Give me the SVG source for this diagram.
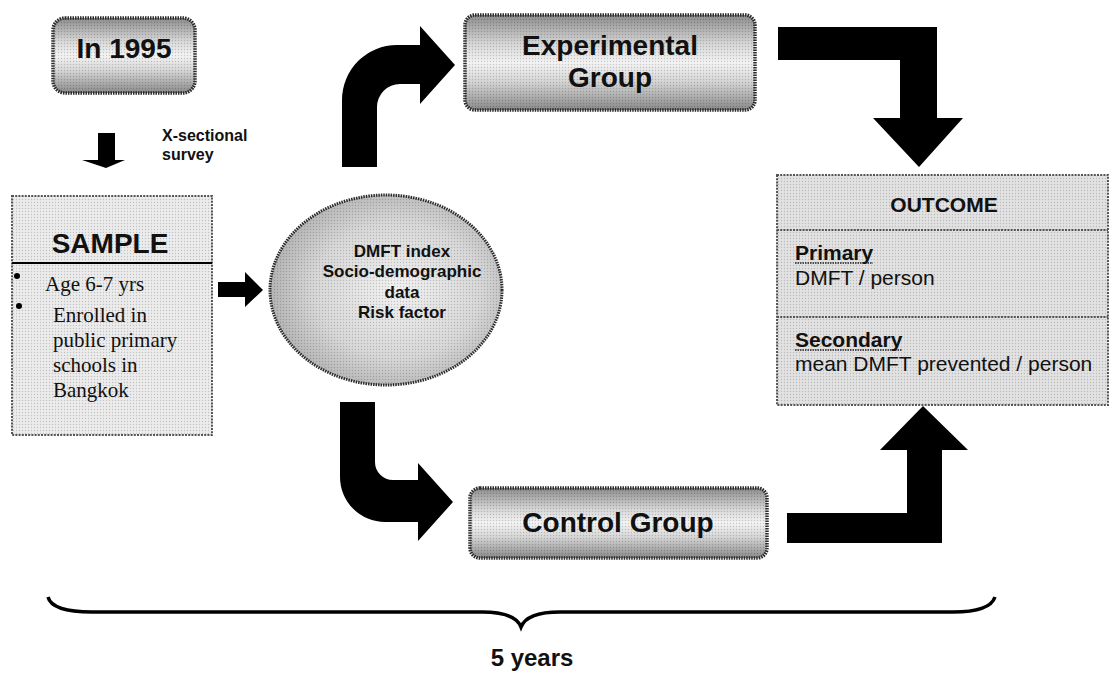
<svg xmlns="http://www.w3.org/2000/svg" width="1111" height="679" viewBox="0 0 1111 679">
<defs>
<linearGradient id="gBox" x1="0" y1="0" x2="0" y2="1">
<stop offset="0" stop-color="#8c8c8c"/>
<stop offset="0.3" stop-color="#d6d6d6"/>
<stop offset="0.5" stop-color="#f4f4f4"/>
<stop offset="0.7" stop-color="#d6d6d6"/>
<stop offset="1" stop-color="#8a8a8a"/>
</linearGradient>
<radialGradient id="gEll" cx="0.55" cy="0.5" r="0.55">
<stop offset="0" stop-color="#f2f2f2"/>
<stop offset="0.65" stop-color="#d8d8d8"/>
<stop offset="1" stop-color="#b4b4b4"/>
</radialGradient>
<pattern id="ht" width="3" height="3" patternUnits="userSpaceOnUse">
<circle cx="1.5" cy="1.5" r="0.7" fill="#000" opacity="0.18"/>
</pattern>
<style>
.rbox{fill:url(#gBox);stroke:#2a2a2a;stroke-width:3.5;stroke-dasharray:1.5 1}
.tex{fill:url(#ht);stroke:none}
.sq{stroke:#555;stroke-width:2;stroke-dasharray:2 1.2}
.ul{stroke:#222;stroke-width:1.5;stroke-dasharray:1.5 1}
.b{font-family:"Liberation Sans",Arial,sans-serif;font-weight:bold;fill:#111}
.r{font-family:"Liberation Sans",Arial,sans-serif;fill:#111}
.s{font-family:"Liberation Serif","Times New Roman",serif;fill:#111}
.arr{fill:#000}
</style>
</defs>
<rect width="1111" height="679" fill="#fff"/>

<g id="in1995">
<rect class="rbox" x="53" y="18" width="142" height="75" rx="12"/>
<rect class="tex" x="55" y="20" width="138" height="71" rx="10"/>
<text class="b" x="124" y="58" font-size="28" text-anchor="middle">In 1995</text>
</g>

<g id="xsection-label">
<text class="b" x="162" y="141" font-size="16">X-sectional</text>
<text class="b" x="162" y="160" font-size="16">survey</text>
</g>

<g id="sample">
<rect class="sq" x="12" y="196" width="200" height="239" fill="#ececec"/>
<rect class="tex" x="13" y="197" width="198" height="237"/>
<line x1="12" y1="263" x2="212" y2="263" stroke="#000" stroke-width="2"/>
<text class="b" x="110" y="253" font-size="28" text-anchor="middle">SAMPLE</text>
<circle cx="17" cy="276" r="3" fill="#000"/>
<text class="s" x="45" y="291" font-size="21">Age 6-7 yrs</text>
<circle cx="19" cy="306" r="3" fill="#000"/>
<text class="s" x="53" y="322" font-size="21">Enrolled in</text>
<text class="s" x="53" y="347" font-size="21">public primary</text>
<text class="s" x="53" y="372" font-size="21">schools in</text>
<text class="s" x="53" y="397" font-size="21">Bangkok</text>
</g>

<g id="data-ellipse">
<ellipse cx="386" cy="290" rx="116" ry="95" fill="url(#gEll)" stroke="#2a2a2a" stroke-width="3" stroke-dasharray="1.5 1"/>
<ellipse class="tex" cx="386" cy="290" rx="114" ry="93"/>
<text class="b" x="402" y="257" font-size="17" text-anchor="middle">DMFT index</text>
<text class="b" x="402" y="277" font-size="17" text-anchor="middle">Socio-demographic</text>
<text class="b" x="402" y="298" font-size="17" text-anchor="middle">data</text>
<text class="b" x="402" y="318" font-size="17" text-anchor="middle">Risk factor</text>
</g>

<g id="experimental">
<rect class="rbox" x="465" y="15" width="290" height="95" rx="10"/>
<rect class="tex" x="467" y="17" width="286" height="91" rx="9"/>
<text class="b" x="610" y="55" font-size="28" text-anchor="middle">Experimental</text>
<text class="b" x="610" y="87" font-size="28" text-anchor="middle">Group</text>
</g>

<g id="control">
<rect class="rbox" x="470" y="488" width="297" height="70" rx="10"/>
<rect class="tex" x="472" y="490" width="293" height="66" rx="9"/>
<text class="b" x="618" y="532" font-size="28" text-anchor="middle">Control Group</text>
</g>

<g id="outcome">
<rect class="sq" x="777" y="175" width="331" height="230" fill="#e2e2e2"/>
<rect class="tex" x="778" y="176" width="329" height="228"/>
<line class="sq" x1="777" y1="230" x2="1108" y2="230"/>
<line class="sq" x1="777" y1="317" x2="1108" y2="317"/>
<text class="b" x="944" y="212" font-size="21" text-anchor="middle">OUTCOME</text>
<text class="b" x="795" y="260" font-size="21">Primary</text>
<line class="ul" x1="795" y1="263" x2="873" y2="263"/>
<text class="r" x="795" y="285" font-size="21">DMFT / person</text>
<text class="b" x="795" y="347" font-size="21">Secondary</text>
<line class="ul" x1="795" y1="350" x2="902" y2="350"/>
<text class="r" x="795" y="371" font-size="21">mean DMFT prevented / person</text>
</g>

<g id="connectors">
<path class="arr" d="M98,133 L115,133 L115,160 L125,160 L106,168 L82,160 L98,160 Z"/>
<path class="arr" d="M218,282 L245,282 L245,272 L263,290 L245,307 L245,297 L218,297 Z"/>
<path class="arr" d="M342,167 L342,100 A55,55 0 0 1 397,45 L420,45 L420,26 L455,65 L420,104 L420,84 L400,84 A23,23 0 0 0 377,107 L377,167 Z"/>
<path class="arr" d="M340,402 L375,402 L375,462 A18,18 0 0 0 393,480 L418,480 L418,463 L453,502 L418,541 L418,522 L385,522 A45,45 0 0 1 340,477 Z"/>
<path class="arr" d="M778,27 L937,27 L937,118 L963,118 L919,167 L873,118 L900,118 L900,60 L778,60 Z"/>
<path class="arr" d="M787,513 L907,513 L907,450 L880,450 L923,406 L968,450 L942,450 L942,543 L787,543 Z"/>
</g>

<g id="brace">
<path d="M48,597 Q52,612 92,612 L482,612 Q515,612 521,627 Q527,612 560,612 L953,612 Q990,612 995,597" fill="none" stroke="#000" stroke-width="3.5"/>
<text class="b" x="532" y="666" font-size="24" text-anchor="middle">5 years</text>
</g>
</svg>
